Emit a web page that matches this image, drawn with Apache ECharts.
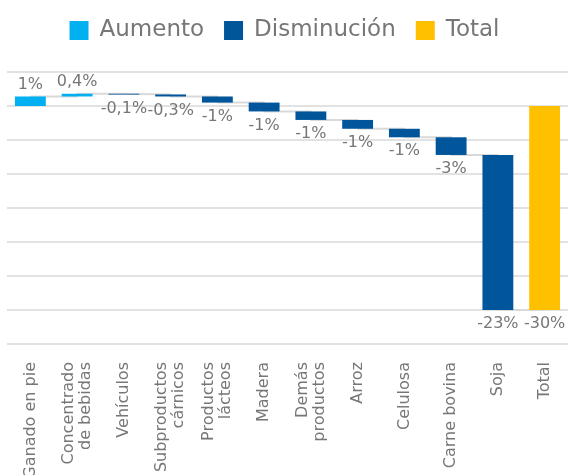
<!DOCTYPE html>
<html>
<head>
<meta charset="utf-8">
<script src="https://cdn.jsdelivr.net/npm/echarts@6/dist/echarts.min.js"></script>
<style>
  html, body { margin: 0; padding: 0; background: #fff; }
  #chart { width: 569px; height: 475px; }
</style>
</head>
<body>
<div id="chart"></div>
<script>
// categorias del puente (waterfall)
const categories = ['Ganado en pie', 'Concentrado\nde bebidas', 'Vehículos', 'Subproductos\ncárnicos',
  'Productos\nlácteos', 'Madera', 'Demás\nproductos', 'Arroz', 'Celulosa', 'Carne bovina', 'Soja', 'Total']
// variacion de cada producto (%)
const changes = [1.4, 0.4, -0.1, -0.3, -0.9, -1.3, -1.25, -1.3, -1.25, -2.6, -22.8]
const totalValue = -30
const legendNames = ['Aumento', 'Disminución', 'Total']
const yTicks = { min: -35, max: 5, step: 5 }

const FONT = 'DejaVu Sans'
const TEXT_COLOR = '#767676'

// armar tramos [indice, inicio, fin, valor]
let level = 0
const upData = []
const downData = []
const stepData = []
changes.forEach((v, i) => {
  const start = level
  level += v
  ;(v >= 0 ? upData : downData).push([i, start, level, v])
  stepData.push([i, level])
})
const totalData = [[changes.length, 0, totalValue, totalValue]]
stepData.push([changes.length, totalValue])

function fmt (v) {
  if (Math.abs(v) < 0.5) return v.toFixed(1).replace('.', ',') + '%'
  return Math.round(v) + '%'
}

function renderBar (params, api) {
  const i = api.value(0)
  const p0 = api.coord([i, api.value(1)])
  const p1 = api.coord([i, api.value(2)])
  const w = api.size([1, 0])[0] * 0.66
  const v = api.value(3)
  return {
    type: 'rect',
    shape: {
      x: p0[0] - w / 2,
      y: Math.min(p0[1], p1[1]),
      width: w,
      height: Math.max(Math.abs(p1[1] - p0[1]), 0.8)
    },
    style: { fill: api.visual('color') },
    textContent: {
      style: { text: fmt(v), fill: TEXT_COLOR, fontSize: 16, fontFamily: FONT }
    },
    textConfig: { position: v >= 0 ? 'top' : 'bottom', distance: v >= 0 ? 4 : 6 }
  }
}

function barSeries (name, color, data) {
  return {
    name: name,
    type: 'custom',
    renderItem: renderBar,
    itemStyle: { color: color },
    encode: { x: 0, y: [1, 2] },
    data: data,
    z: 3
  }
}

const chart = echarts.init(document.getElementById('chart'))
chart.setOption({
  animation: false,
  legend: {
    data: legendNames,
    top: 14,
    left: 'center',
    icon: 'rect',
    itemWidth: 19,
    itemHeight: 19,
    itemGap: 20,
    textStyle: { fontSize: 23, color: TEXT_COLOR, fontFamily: FONT, padding: [0, 0, 0, 6] }
  },
  grid: { left: 7, right: 1, top: 72, bottom: 131, outerBoundsMode: 'none' },
  xAxis: {
    type: 'category',
    data: categories,
    axisLine: { show: false, onZero: false },
    axisTick: { show: false },
    axisLabel: {
      interval: 0,
      rotate: 90,
      margin: 18,
      fontSize: 16,
      lineHeight: 17,
      color: TEXT_COLOR,
      fontFamily: FONT
    }
  },
  yAxis: {
    type: 'value',
    min: yTicks.min,
    max: yTicks.max,
    interval: yTicks.step,
    axisLabel: { show: false },
    axisLine: { show: false },
    axisTick: { show: false },
    splitLine: { lineStyle: { color: '#d9d9d9', width: 1.5 } }
  },
  series: [
    // lineas conectoras
    {
      type: 'line',
      step: 'end',
      data: stepData,
      symbol: 'none',
      silent: true,
      lineStyle: { color: '#d9d9d9', width: 2 },
      z: 1
    },
    barSeries('Aumento', '#00b0f0', upData),
    barSeries('Disminución', '#00559b', downData),
    barSeries('Total', '#ffc000', totalData)
  ]
})
</script>
</body>
</html>
